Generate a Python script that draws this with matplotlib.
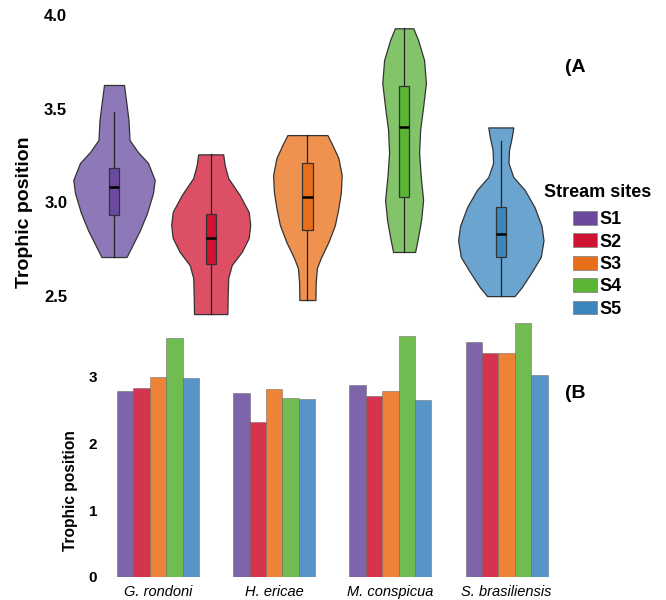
import numpy as np
import matplotlib
matplotlib.use('Agg')
import matplotlib.pyplot as plt
from matplotlib.patches import Patch

plt.rcParams['font.family'] = ['Liberation Sans', 'DejaVu Sans']

# ---------------- data ----------------
sites = ['S1', 'S2', 'S3', 'S4', 'S5']
species = ['G. rondoni', 'H. ericae', 'M. conspicua', 'S. brasiliensis']

# violin profiles (trophic position levels, relative density)
s1_levels = [2.706, 2.759, 2.850, 2.941, 3.048, 3.118, 3.209, 3.267, 3.332, 3.438, 3.545, 3.626]
s1_density = [12.5, 17.5, 26, 33, 39, 40.7, 34, 24, 15.5, 14.5, 12, 10]
s2_levels = [2.401, 2.503, 2.594, 2.663, 2.733, 2.808, 2.877, 2.947, 3.037, 3.128, 3.198, 3.255]
s2_density = [16.7, 17, 17.5, 21, 31, 38, 39.5, 38, 29, 17.5, 14, 12.5]
s3_levels = [2.476, 2.572, 2.647, 2.700, 2.786, 2.877, 2.968, 3.054, 3.144, 3.235, 3.305, 3.358]
s3_density = [8, 8.3, 9.5, 13.3, 21, 27.5, 31, 33.5, 34.3, 31, 25, 20]
s4_levels = [2.733, 2.813, 2.904, 3.011, 3.134, 3.262, 3.385, 3.508, 3.636, 3.759, 3.866, 3.929]
s4_density = [11, 14, 17, 19, 16.7, 15, 16, 19, 21.8, 20, 14, 9.2]
s5_levels = [2.497, 2.545, 2.627, 2.707, 2.795, 2.873, 2.973, 3.064, 3.134, 3.209, 3.278, 3.348, 3.399]
s5_density = [13.7, 21, 31, 40, 42.7, 40.7, 33.7, 24, 12.5, 7.7, 8.2, 11, 12.5]

box_q1 = [2.930, 2.667, 2.850, 3.025, 2.707]
box_median = [3.080, 2.809, 3.028, 3.401, 2.830]
box_q3 = [3.182, 2.934, 3.207, 3.620, 2.972]
whisker_lo = [2.706, 2.401, 2.476, 2.733, 2.497]
whisker_hi = [3.481, 3.255, 3.358, 3.929, 3.328]

top_ticks = [2.5, 3.0, 3.5, 4.0]

# bar panel: trophic position per species for each site
bar_s1 = [2.79, 2.76, 2.88, 3.52]
bar_s2 = [2.83, 2.32, 2.71, 3.35]
bar_s3 = [2.99, 2.82, 2.79, 3.35]
bar_s4 = [3.58, 2.68, 3.61, 3.80]
bar_s5 = [2.98, 2.67, 2.65, 3.03]
bottom_ticks = [0, 1, 2, 3]

# ---------------- style ----------------
violin_fill = ['#8e78b8', '#dc4f65', '#f0924f', '#83c46a', '#6aa4cf']
box_fill = ['#6b4a9e', '#cf1132', '#e86e1a', '#5bb534', '#3c86c0']
bar_colors = ['#7e64ab', '#d6334e', '#ec8336', '#70bc50', '#5795c8']
edge = '#333333'

W, H = 666, 600
fig = plt.figure(figsize=(W / 100, H / 100), dpi=100)

def fx(px):
    return px / W

def fy(py):
    return 1 - py / H

# ---------------- panel A ----------------
axA = fig.add_axes([fx(72), fy(318), fx(560) - fx(72), fy(11.3) - fy(318)])
px_per_unit = 96.7
levels = [s1_levels, s2_levels, s3_levels, s4_levels, s5_levels]
dens = [s1_density, s2_density, s3_density, s4_density, s5_density]
positions = np.arange(1, 6)
vpstats = []
widths = []
for i in range(5):
    lv = np.array(levels[i])
    dv = np.array(dens[i])
    vpstats.append(dict(coords=lv, vals=dv, mean=box_median[i], median=box_median[i],
                        min=lv.min(), max=lv.max()))
    widths.append(2 * dv.max() / px_per_unit)
parts = axA.violin(vpstats, positions=positions, widths=widths,
                   showmeans=False, showextrema=False, showmedians=False)
for body, c in zip(parts['bodies'], violin_fill):
    body.set_facecolor(c)
    body.set_edgecolor(edge)
    body.set_linewidth(0.9)
    body.set_alpha(1)

bstats = []
for i in range(5):
    bstats.append(dict(med=box_median[i], q1=box_q1[i], q3=box_q3[i],
                       whislo=whisker_lo[i], whishi=whisker_hi[i], fliers=[]))
bp = axA.bxp(bstats, positions=positions, widths=10.3 / px_per_unit, patch_artist=True,
             showcaps=False, showfliers=False,
             boxprops=dict(edgecolor=edge, linewidth=0.9),
             whiskerprops=dict(color='#222222', linewidth=0.9),
             medianprops=dict(color='black', linewidth=1.8))
for b, c in zip(bp['boxes'], box_fill):
    b.set_facecolor(c)
    b.set_zorder(3)
for w in bp['whiskers']:
    w.set_zorder(2.5)
for m in bp['medians']:
    m.set_zorder(4)

axA.set_xlim(1 - 42 / px_per_unit, 1 + 446 / px_per_unit)
axA.set_ylim(2.38, 4.02)
axA.set_yticks(top_ticks)
axA.set_yticklabels([f'{t:.1f}' for t in top_ticks], fontsize=12, fontweight='bold')
axA.set_xticks([])
axA.tick_params(axis='y', length=0, pad=3.5)
for s in axA.spines.values():
    s.set_visible(False)
axA.patch.set_alpha(0)

fig.text(fx(25), fy(212), 'Trophic position', rotation=90, ha='center', va='center',
         fontsize=14, fontweight='bold')
fig.text(fx(575), fy(67), '(A', ha='center', va='center', fontsize=14, fontweight='bold')

# legend: title as separate text, entries below
fig.text(fx(598), fy(192), 'Stream sites', ha='center', va='center',
         fontsize=13, fontweight='bold')
handles = [Patch(facecolor=c, edgecolor='#888888', linewidth=0.6) for c in box_fill]
leg = fig.legend(handles, sites, loc='upper left',
                 bbox_to_anchor=(fx(573), fy(211)), frameon=False,
                 prop=dict(size=13, weight='bold'),
                 handlelength=1.35, handleheight=0.8, handletextpad=0.1,
                 labelspacing=0.29, borderpad=0, borderaxespad=0)

# ---------------- panel B ----------------
axB = fig.add_axes([fx(105), fy(577), fx(560) - fx(105), fy(320) - fy(577)])
bar_vals = [bar_s1, bar_s2, bar_s3, bar_s4, bar_s5]
x = np.arange(len(species))
bw = 16.4 / 116.2
for j in range(5):
    axB.bar(x + (j - 2) * bw, bar_vals[j], width=bw, color=bar_colors[j],
            edgecolor=(0.35, 0.35, 0.35, 0.45), linewidth=0.7)
axB.set_xlim((105 - 158) / 116.2, (560 - 158) / 116.2)
axB.set_ylim(0, 3.85)
axB.set_yticks(bottom_ticks)
axB.set_yticklabels([str(t) for t in bottom_ticks], fontsize=11, fontweight='bold')
axB.set_xticks(x)
axB.set_xticklabels(species, fontsize=10.5, fontstyle='italic')
axB.tick_params(axis='y', length=0, pad=5.5)
axB.tick_params(axis='x', length=0, pad=6)
for s in axB.spines.values():
    s.set_visible(False)
axB.patch.set_alpha(0)

fig.text(fx(70), fy(491), 'Trophic position', rotation=90, ha='center', va='center',
         fontsize=11.2, fontweight='bold')
fig.text(fx(575), fy(393), '(B', ha='center', va='center', fontsize=14, fontweight='bold')

fig.savefig('out.png', dpi=100)
